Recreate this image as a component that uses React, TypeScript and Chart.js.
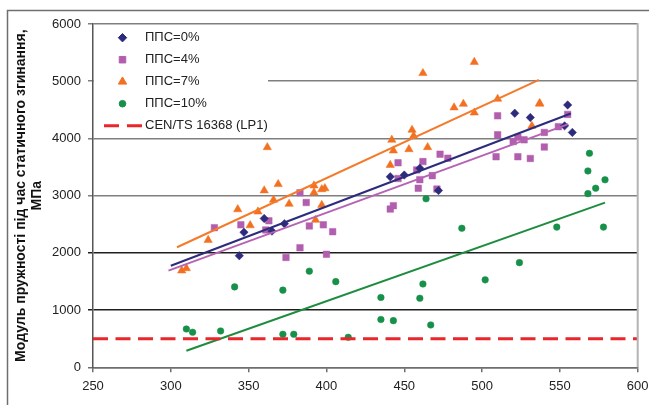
import React, { useEffect, useRef } from 'react';
import { Chart, registerables } from 'chart.js';
import { drawPoint } from 'chart.js/helpers';

Chart.register(...registerables);

const FONT = '"Liberation Sans", Arial, sans-serif';

const seriesLabels = ['ППС=0%', 'ППС=4%', 'ППС=7%', 'ППС=10%'];
const limitLabel = 'CEN/TS 16368 (LP1)';
const yAxisTitle = ['Модуль пружності під час статичного згинання,', 'МПа'];

// ППС=0%
const x0 = [344, 347, 360, 365, 373, 441, 450, 460, 472, 521, 531, 553, 555, 558];
const y0 = [1950, 2360, 2600, 2380, 2510, 3330, 3360, 3480, 3090, 4440, 4365, 4220, 4585, 4105];

// ППС=4%
const x4 = [328, 345, 361, 363, 383, 387, 389, 398, 404, 374, 383, 400, 441, 443, 446, 446, 458, 459, 460, 462, 468, 471, 473, 478, 510, 510, 509, 520, 523, 523, 527, 531, 540, 540, 549, 555];
const y4 = [2440, 2490, 2400, 2560, 3050, 2880, 2470, 2490, 2370, 1920, 2090, 1975, 2765, 2825, 3575, 3300, 3450, 3130, 3280, 3595, 3350, 3115, 3725, 3655, 4395, 4065, 3680, 3945, 4020, 3680, 3975, 3650, 4105, 3850, 4205, 4420];

// ППС=7%
const x7 = [307, 310, 324, 343, 351, 356, 360, 362, 366, 369, 376, 392, 392, 393, 397, 397, 399, 441, 442, 443, 453, 455, 456, 462, 465, 482, 488, 495, 495, 510, 532, 537, 537];
const y7 = [1690, 1730, 2225, 2760, 2480, 2720, 3090, 3845, 2925, 3200, 2855, 3175, 3055, 2575, 3110, 2837, 3128, 3535, 3975, 3787, 3810, 4148, 4044, 5140, 3846, 4540, 4603, 5335, 4450, 4690, 4218, 4605, 4615];

// ППС=10%
const x10 = [310, 314, 332, 341, 372, 372, 379, 389, 406, 414, 435, 435, 443, 460, 462, 464, 467, 487, 502, 524, 548, 568, 568, 569, 573, 578, 579];
const y10 = [670, 612, 635, 1405, 1348, 577, 577, 1680, 1497, 524, 1220, 835, 815, 1206, 1456, 2945, 740, 2430, 1528, 1829, 2450, 3035, 3432, 3740, 3130, 2450, 3277];

// Trend lines (start, end)
const trend0X = [300, 557];
const trend0Y = [1775, 4435];
const trend4X = [298.5, 555.4];
const trend4Y = [1689, 4250];
const trend7X = [304, 536.5];
const trend7Y = [2098, 5022];
const trend10X = [310, 579];
const trend10Y = [290, 2878];

// Limit line
const limitX = [250, 600];
const limitY = [500, 500];

const navy = '#2D2B7C';
const purple = '#B25EAE';
const orange = '#F37021';
const green = '#17904A';
const red = '#E8262B';

const pts = (xs: number[], ys: number[]) => xs.map((x, i) => ({ x, y: ys[i] }));

const markerStyles = [
  { color: navy, style: 'rectRot', radius: 4.2 },
  { color: purple, style: 'rect', radius: 4.6 },
  { color: orange, style: 'triangle', radius: 4.8 },
  { color: green, style: 'circle', radius: 3.3 },
];

const legendPlugin = {
  id: 'customLegend',
  beforeDatasetsDraw(chart: any) {
    const ctx = chart.ctx as CanvasRenderingContext2D;
    const area = chart.chartArea;
    ctx.save();
    ctx.fillStyle = '#ffffff';
    ctx.fillRect(area.left + 1, area.top + 1, 174, 110);
    const rowY0 = 37.7;
    const rowGap = 22;
    const markerX = 122.5;
    const textX = 145;
    ctx.font = `13px ${FONT}`;
    ctx.textBaseline = 'middle';
    ctx.textAlign = 'left';
    seriesLabels.forEach((label, i) => {
      const m = markerStyles[i];
      const y = rowY0 + i * rowGap;
      ctx.fillStyle = m.color;
      ctx.strokeStyle = m.color;
      drawPoint(ctx, { pointStyle: m.style as any, radius: m.radius, rotation: 0, borderWidth: 0.5 }, markerX, y);
      ctx.fillStyle = '#222222';
      ctx.fillText(label, textX, y);
    });
    const ly = rowY0 + 4 * rowGap;
    ctx.strokeStyle = red;
    ctx.lineWidth = 3;
    ctx.setLineDash([15, 8]);
    ctx.beginPath();
    ctx.moveTo(104, ly);
    ctx.lineTo(142, ly);
    ctx.stroke();
    ctx.setLineDash([]);
    ctx.fillStyle = '#222222';
    ctx.fillText(limitLabel, textX, ly);
    ctx.restore();
  },
  afterDraw(chart: any) {
    const ctx = chart.ctx as CanvasRenderingContext2D;
    const area = chart.chartArea;
    ctx.save();
    // right border of plot area
    ctx.strokeStyle = '#b4b4b4';
    ctx.lineWidth = 2;
    ctx.beginPath();
    ctx.moveTo(area.right, area.top - 1);
    ctx.lineTo(area.right, area.bottom);
    ctx.stroke();
    // outer frame
    ctx.strokeStyle = '#6f6f6f';
    ctx.lineWidth = 1.5;
    ctx.beginPath();
    ctx.moveTo(649, 10.5);
    ctx.lineTo(7.5, 10.5);
    ctx.lineTo(7.5, 405);
    ctx.stroke();
    ctx.restore();
  },
};

export default function App() {
  const canvasRef = useRef<HTMLCanvasElement | null>(null);

  useEffect(() => {
    document.body.style.margin = '0';
    const canvas = canvasRef.current;
    if (!canvas) return;

    const pointDs = (i: number, xs: number[], ys: number[]) => ({
      type: 'scatter' as const,
      label: seriesLabels[i],
      data: pts(xs, ys),
      pointStyle: markerStyles[i].style,
      pointRadius: markerStyles[i].radius,
      pointBackgroundColor: markerStyles[i].color,
      pointBorderColor: markerStyles[i].color,
      pointBorderWidth: 0.5,
      showLine: false,
      order: 2,
    });
    const lineDs = (label: string, xs: number[], ys: number[], color: string, width: number, dash: number[] = []) => ({
      type: 'scatter' as const,
      label,
      data: pts(xs, ys),
      showLine: true,
      borderColor: color,
      borderWidth: width,
      borderDash: dash,
      pointRadius: 0,
      pointHoverRadius: 0,
      fill: false,
      order: 1,
    });

    const chart = new Chart(canvas, {
      type: 'scatter',
      data: {
        datasets: [
          lineDs(limitLabel, limitX, limitY, red, 3, [15, 7.5]),
          lineDs('trend0', trend0X, trend0Y, navy, 2),
          lineDs('trend4', trend4X, trend4Y, '#B563B3', 2),
          lineDs('trend7', trend7X, trend7Y, '#F47A2A', 2),
          lineDs('trend10', trend10X, trend10Y, '#1E8C3E', 2),
          pointDs(0, x0, y0),
          pointDs(1, x4, y4),
          pointDs(2, x7, y7),
          pointDs(3, x10, y10),
        ] as any,
      },
      options: {
        animation: false,
        responsive: false,
        devicePixelRatio: 1,
        layout: { padding: { top: 24, right: 11.3, left: 0, bottom: 0 } },
        plugins: {
          legend: { display: false },
          tooltip: { enabled: false },
        },
        scales: {
          x: {
            type: 'linear',
            min: 250,
            max: 600,
            ticks: {
              stepSize: 50,
              padding: 6,
              color: '#222222',
              font: { size: 13, family: FONT },
              callback: (v: any) => String(v),
            },
            grid: { drawOnChartArea: false, tickLength: 5, color: '#6e6e6e', lineWidth: 1.5 },
            border: { color: '#6e6e6e', width: 1.5 },
            afterFit: (s: any) => {
              s.height = 405 - 367.3;
              s.paddingLeft = 0;
              s.paddingRight = 0;
            },
          },
          y: {
            type: 'linear',
            min: 0,
            max: 6000,
            ticks: {
              stepSize: 1000,
              padding: 7,
              color: '#222222',
              font: { size: 13, family: FONT },
              callback: (v: any) => String(v),
            },
            grid: {
              tickLength: 5,
              lineWidth: 1.5,
              color: (c: any) => {
                const v = c.tick ? c.tick.value : 0;
                if (v === 0) return '#6e6e6e';
                return v >= 3000 ? '#7f7f7f' : '#1e1e1e';
              },
            },
            border: { color: '#555555', width: 1.5 },
            title: {
              display: true,
              text: yAxisTitle,
              color: '#111111',
              font: { size: 14, weight: 'bold', family: FONT, lineHeight: 1.165 },
              padding: { top: 12.5, bottom: 0 },
            },
            afterFit: (s: any) => {
              s.width = 93;
            },
          },
        },
      } as any,
      plugins: [legendPlugin],
    });

    return () => chart.destroy();
  }, []);

  return (
    <div style={{ width: 649, height: 405 }}>
      <canvas ref={canvasRef} width={649} height={405} style={{ display: 'block' }} />
    </div>
  );
}
